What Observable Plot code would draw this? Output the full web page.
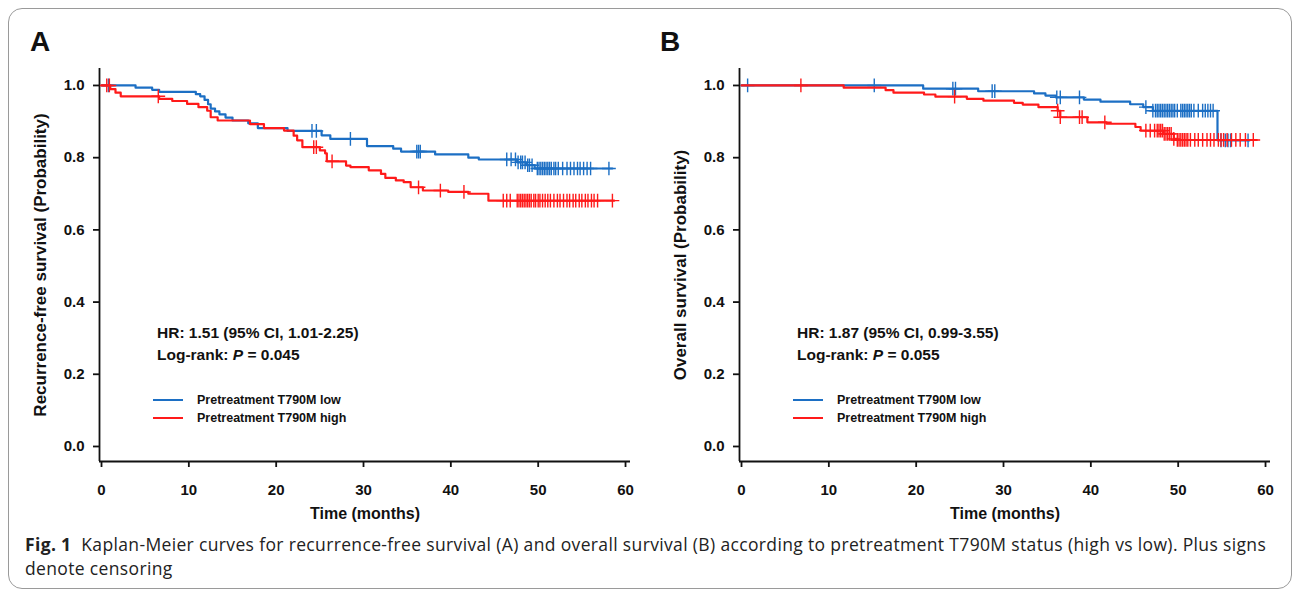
<!DOCTYPE html>
<html><head><meta charset="utf-8">
<script src="https://cdn.jsdelivr.net/npm/d3@7"></script>
<script src="https://cdn.jsdelivr.net/npm/@observablehq/plot@0.6"></script>
<style>
body{margin:0;background:#fff;}
#fig{position:relative;width:1295px;height:590px;overflow:hidden;font-family:"Liberation Sans",Arial,sans-serif;color:#111;}
.border{position:absolute;left:8px;top:8px;width:1284px;height:581px;border:1px solid #9a9a9a;border-radius:14px;box-sizing:border-box;}
.panel{position:absolute;top:0;}
.letter{position:absolute;font-weight:bold;font-size:28px;line-height:28px;}
.stat{position:absolute;font-weight:bold;font-size:15.5px;line-height:21.5px;white-space:nowrap;}
.leg{position:absolute;font-weight:bold;font-size:12.5px;white-space:nowrap;}
.leg .row{display:flex;align-items:center;height:18px;}
.leg .sw{width:30px;height:0;border-top:2px solid;margin-right:14px;}
.caption{position:absolute;left:25px;top:532px;font-family:"Open Sans",Lato,sans-serif;font-size:17.5px;letter-spacing:0.35px;line-height:24px;color:#222;white-space:nowrap;}
</style></head><body>
<div id="fig">
  <div class="border"></div>
  <div class="panel" id="pA" style="left:0px"></div>
  <div class="panel" id="pB" style="left:640px"></div>
  <div class="letter" style="left:30px;top:28px">A</div>
  <div class="letter" style="left:660px;top:28px">B</div>
  <div class="stat" style="left:157px;top:322px">HR: 1.51 (95% CI, 1.01-2.25)<br>Log-rank: <i>P</i> = 0.045</div>
  <div class="stat" style="left:797px;top:322px">HR: 1.87 (95% CI, 0.99-3.55)<br>Log-rank: <i>P</i> = 0.055</div>
  <div class="leg" id="legA" style="left:153px;top:391px"></div>
  <div class="leg" id="legB" style="left:793px;top:391px"></div>
  <div class="caption"><b>Fig. 1</b>&nbsp;&nbsp;Kaplan-Meier curves for recurrence-free survival (A) and overall survival (B) according to pretreatment T790M status (high vs low). Plus signs<br>denote censoring</div>
</div>
<script>
// ---------- data ----------
const groupNames = ["Pretreatment T790M low", "Pretreatment T790M high"];
const timeTicks = [0, 10, 20, 30, 40, 50, 60];
const probTicks = [0, 0.2, 0.4, 0.6, 0.8, 1.0];

// Panel A: recurrence-free survival
const rfsLowTimes = [0, 3.9, 5.8, 6.6, 10.8, 11.3, 11.8, 12.2, 12.5, 13.0, 13.5, 14.2, 15.0, 16.8, 17.9, 21.3, 25.2, 26.2, 30.4, 33.4, 34.3, 38.2, 42.0, 43.2, 47.6, 48.6, 49.6];
const rfsLowSurv  = [1.0, 0.994, 0.988, 0.982, 0.976, 0.97, 0.96, 0.948, 0.936, 0.928, 0.92, 0.911, 0.903, 0.895, 0.882, 0.874, 0.862, 0.852, 0.832, 0.825, 0.817, 0.809, 0.80, 0.795, 0.787, 0.779, 0.77];
const rfsLowEnd = 58.5;
const rfsLowCensor = [0.8, 24.1, 24.6, 28.5, 36.1, 36.3, 36.5, 46.4, 46.9, 47.4, 47.7, 48.0, 48.2, 48.5, 48.8, 49.0, 49.3, 49.9, 50.1, 50.3, 50.5, 50.7, 50.9, 51.1, 51.3, 51.5, 51.8, 52.0, 52.3, 52.8, 53.3, 53.7, 54.1, 54.5, 54.8, 55.2, 55.6, 56.0, 58.1];

const rfsHighTimes = [0, 1.0, 1.6, 2.2, 6.6, 8.1, 9.8, 11.1, 12.1, 12.5, 13.3, 17.0, 18.6, 20.9, 22.0, 22.4, 23.0, 25.0, 25.6, 25.8, 28.0, 28.5, 30.6, 32.0, 32.5, 33.7, 34.6, 35.4, 36.8, 39.7, 42.0, 44.3];
const rfsHighSurv  = [1.0, 0.99, 0.98, 0.97, 0.963, 0.957, 0.949, 0.94, 0.93, 0.912, 0.903, 0.893, 0.882, 0.875, 0.861, 0.848, 0.829, 0.82, 0.812, 0.79, 0.778, 0.774, 0.765, 0.755, 0.744, 0.737, 0.732, 0.718, 0.709, 0.705, 0.70, 0.681];
const rfsHighEnd = 58.7;
const rfsHighCensor = [0.6, 0.9, 6.5, 24.3, 24.6, 26.4, 36.3, 38.8, 41.5, 46.0, 46.4, 46.8, 47.6, 47.8, 48.0, 48.2, 48.4, 48.6, 48.8, 49.0, 49.2, 49.5, 49.7, 50.0, 50.2, 50.5, 50.8, 51.1, 51.4, 51.8, 52.2, 52.5, 52.9, 53.3, 53.6, 54.0, 54.3, 54.7, 55.0, 55.4, 55.7, 56.1, 56.4, 56.8, 58.5];

// Panel B: overall survival
const osLowTimes = [0, 20.8, 27.1, 33.5, 34.8, 36.0, 39.2, 41.1, 44.5, 46.0, 47.1, 54.5];
const osLowSurv  = [1.0, 0.991, 0.984, 0.978, 0.972, 0.967, 0.961, 0.955, 0.948, 0.94, 0.93, 0.848];
const osLowEnd = 58.2;
const osLowCensor = [0.7, 15.2, 24.2, 24.5, 28.7, 29.0, 36.1, 36.5, 38.7, 46.3, 47.1, 47.4, 47.6, 47.8, 48.0, 48.2, 48.4, 48.6, 48.8, 49.0, 49.2, 49.4, 49.6, 49.9, 50.3, 50.5, 50.7, 50.9, 51.1, 51.3, 51.5, 51.8, 52.3, 52.8, 53.1, 53.4, 53.7, 54.0, 54.9, 55.4, 55.7, 56.0, 58.0];

const osHighTimes = [0, 11.7, 16.5, 17.4, 20.9, 22.2, 25.8, 27.7, 31.2, 32.2, 34.0, 36.2, 36.5, 39.6, 41.8, 45.1, 45.7, 48.3, 49.5, 49.9];
const osHighSurv  = [1.0, 0.994, 0.987, 0.98, 0.975, 0.969, 0.963, 0.958, 0.952, 0.947, 0.94, 0.93, 0.912, 0.898, 0.894, 0.885, 0.875, 0.866, 0.852, 0.849];
const osHighEnd = 59.0;
const osHighCensor = [6.8, 24.4, 36.2, 36.5, 38.7, 39.0, 41.6, 46.3, 46.8, 47.3, 47.6, 47.8, 48.0, 48.2, 48.4, 48.6, 48.8, 49.0, 49.2, 49.5, 49.9, 50.1, 50.3, 50.5, 50.7, 50.9, 51.1, 51.4, 51.9, 52.3, 52.8, 53.3, 53.7, 54.1, 54.6, 54.9, 55.2, 55.6, 56.1, 56.6, 57.1, 57.7, 58.6];

// ---------- styling ----------
const BLUE = "#1c6fc4";
const RED = "#ff1a1a";
const X_DOMAIN = [-0.23, 60.57];
const Y_DOMAIN = [-0.0416, 1.047];
const FONT = "'Liberation Sans', Arial, sans-serif";

function survAt(times, surv, t) {
  let s = surv[0];
  for (let i = 0; i < times.length; i++) if (times[i] <= t) s = surv[i];
  return s;
}
function curve(times, surv, end) {
  const pts = times.map((t, i) => ({t, s: surv[i]}));
  pts.push({t: end, s: surv[surv.length - 1]});
  return pts;
}
function censored(times, surv, cens) {
  return cens.map(t => ({t, s: survAt(times, surv, t)}));
}

function panel(low, high, ylabel) {
  return Plot.plot({
    width: 645, height: 530,
    marginLeft: 99, marginRight: 15, marginTop: 68, marginBottom: 69,
    x: {domain: X_DOMAIN},
    y: {domain: Y_DOMAIN},
    style: {fontFamily: FONT, fontWeight: "bold", color: "#111", background: "transparent", overflow: "visible"},
    marks: [
      Plot.ruleX([X_DOMAIN[0]], {y1: Y_DOMAIN[0], y2: Y_DOMAIN[1], strokeWidth: 1.8, stroke: "#111"}),
      Plot.ruleY([Y_DOMAIN[0]], {x1: X_DOMAIN[0], x2: X_DOMAIN[1], strokeWidth: 1.8, stroke: "#111"}),
      Plot.axisX({ticks: timeTicks, tickSize: 6, tickPadding: 17, fontSize: 15, strokeWidth: 1.8, label: null}),
      Plot.axisX({ticks: [], label: "Time (months)", labelAnchor: "center", labelArrow: "none", labelOffset: 57, fontSize: 16}),
      Plot.axisY({ticks: probTicks, tickFormat: d3.format(".1f"), tickSize: 6, tickPadding: 9, fontSize: 15, strokeWidth: 1.8, label: null}),
      Plot.axisY({ticks: [], label: ylabel, labelAnchor: "center", labelArrow: "none", labelOffset: 66, fontSize: 17}),
      Plot.line(curve(low.t, low.s, low.end), {x: "t", y: "s", curve: "step-after", stroke: BLUE, strokeWidth: 2.2}),
      Plot.dot(censored(low.t, low.s, low.c), {x: "t", y: "s", symbol: "plus", r: 4.5, stroke: BLUE, strokeWidth: 1.4}),
      Plot.line(curve(high.t, high.s, high.end), {x: "t", y: "s", curve: "step-after", stroke: RED, strokeWidth: 2.2}),
      Plot.dot(censored(high.t, high.s, high.c), {x: "t", y: "s", symbol: "plus", r: 4.5, stroke: RED, strokeWidth: 1.4})
    ]
  });
}

document.getElementById("pA").append(panel(
  {t: rfsLowTimes, s: rfsLowSurv, end: rfsLowEnd, c: rfsLowCensor},
  {t: rfsHighTimes, s: rfsHighSurv, end: rfsHighEnd, c: rfsHighCensor},
  "Recurrence-free survival (Probability)"));
document.getElementById("pB").append(panel(
  {t: osLowTimes, s: osLowSurv, end: osLowEnd, c: osLowCensor},
  {t: osHighTimes, s: osHighSurv, end: osHighEnd, c: osHighCensor},
  "Overall survival (Probability)"));

for (const id of ["legA", "legB"]) {
  const el = document.getElementById(id);
  [BLUE, RED].forEach((col, i) => {
    const row = document.createElement("div");
    row.className = "row";
    const sw = document.createElement("span");
    sw.className = "sw";
    sw.style.borderColor = col;
    const tx = document.createElement("span");
    tx.textContent = groupNames[i];
    row.append(sw, tx);
    el.append(row);
  });
}
</script>
</body></html>
